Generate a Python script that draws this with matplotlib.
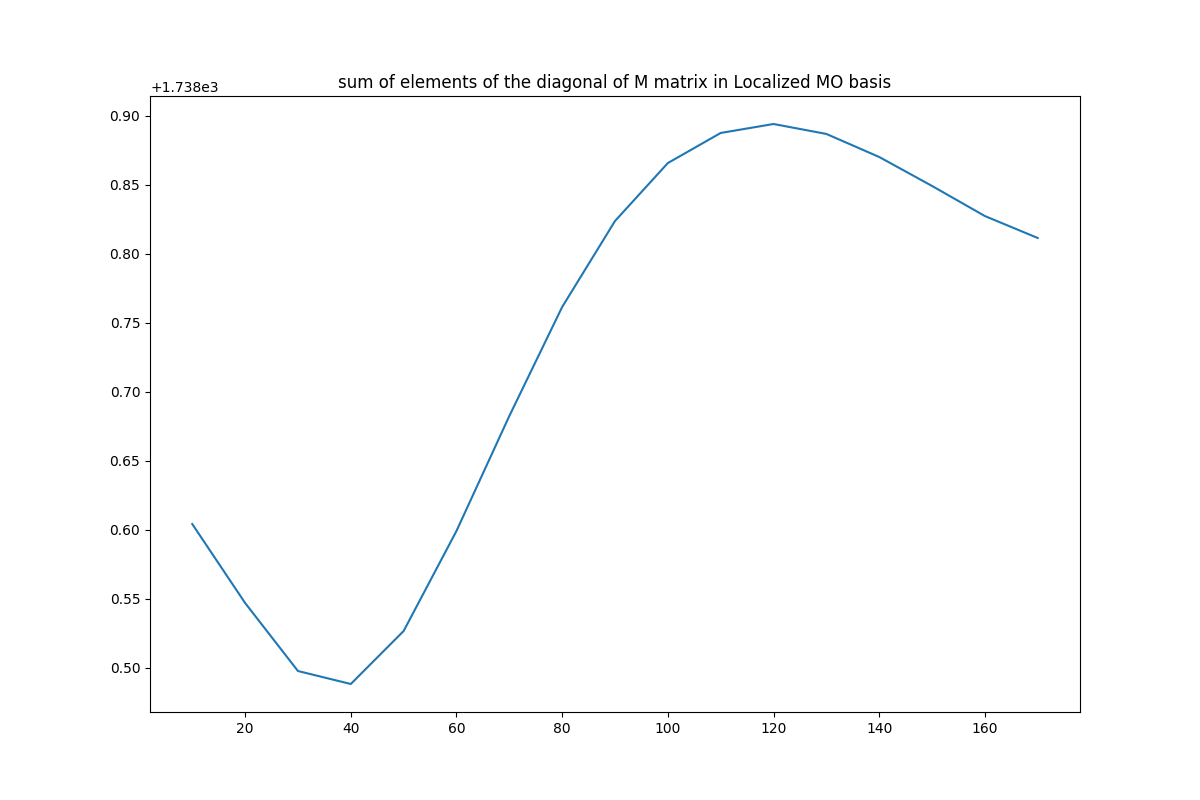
import matplotlib
matplotlib.use("Agg")
import matplotlib.pyplot as plt
import numpy as np

angles = [10, 20, 30, 40, 50, 60, 70, 80, 90, 100, 110, 120, 130, 140, 150, 160, 170]
offset_part = [0.6043, 0.5471, 0.4978, 0.4884, 0.5268, 0.5993, 0.6826, 0.7616, 0.8239,
               0.8659, 0.8877, 0.8942, 0.8870, 0.8703, 0.8493, 0.8275, 0.8116]
values = [1738.0 + v for v in offset_part]

fig, ax = plt.subplots(figsize=(12, 8), dpi=100)
ax.plot(angles, values)
ax.set_title("sum of elements of the diagonal of M matrix in Localized MO basis")
fig.savefig("out.png")
